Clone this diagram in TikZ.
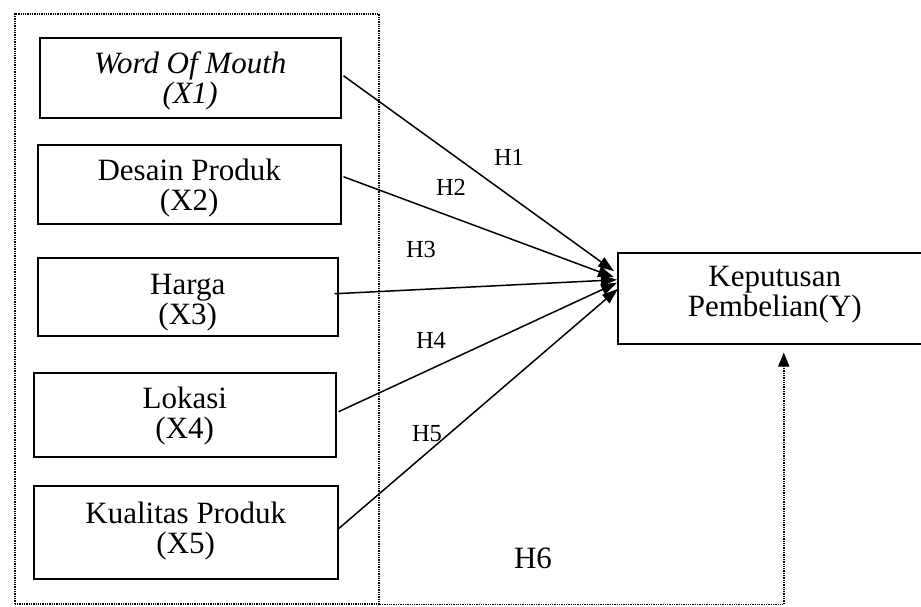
\documentclass[tikz,border=0pt]{standalone}
\usepackage{fontspec}
\setmainfont{Liberation Serif}
\usetikzlibrary{arrows.meta,calc}
\begin{document}
\begin{tikzpicture}[x=1pt,y=-1pt,
  box/.style={draw, line width=1.5pt, inner sep=0pt, anchor=north west},
  btext/.style={font=\fontsize{31}{30}\selectfont, align=center, inner sep=0pt},
  hlab/.style={font=\fontsize{24.5}{29}\selectfont, inner sep=0pt, anchor=base},
  hbig/.style={font=\fontsize{31}{36}\selectfont, inner sep=0pt, anchor=base},
  dotline/.style={line width=1.6pt, dash pattern=on 1.3pt off 1pt},
  link/.style={line width=1.5pt, -{Triangle[length=16pt,width=11pt]}},
]
\clip (0,0) rectangle (921,606);
% dotted group frame
\node[dotline, draw, inner sep=0pt, anchor=north west, minimum width=364pt, minimum height=590pt] (grp) at (14,13) {};
% boxes
\node[box, minimum width=301pt, minimum height=80pt] (b1) at (39,37) {};
\node[box, minimum width=303pt, minimum height=79pt] (b2) at (37,144) {};
\node[box, minimum width=300pt, minimum height=78pt] (b3) at (37,257) {};
\node[box, minimum width=302pt, minimum height=84pt] (b4) at (33,372) {};
\node[box, minimum width=304pt, minimum height=93pt] (b5) at (33,485) {};
\node[box, minimum width=314pt, minimum height=91pt] (y) at (617,252) {};
% box texts
\node[btext] (t1) at ($(b1.center)+(0,3.5)$) {\itshape Word Of Mouth\\\itshape (X1)};
\node[btext] (t2) at ($(b2.center)+(0,3.5)$) {Desain Produk\\(X2)};
\node[btext] (t3) at ($(b3.center)+(0,5.5)$) {Harga\\(X3)};
\node[btext] (t4) at ($(b4.center)+(0,1)$) {Lokasi\\(X4)};
\node[btext] (t5) at ($(b5.center)+(0,-1.5)$) {Kualitas Produk\\(X5)};
\node[btext] (ty) at ($(y.center)+(0,-3.5)$) {Keputusan\\Pembelian(Y)};
% arrows
\draw[link] ($(b1.east)+(2,-2)$) -- ($(y.west)+(-3,-27)$);
\draw[link] ($(b2.east)+(2,-7.5)$) -- ($(y.west)+(-3,-21)$);
\draw[link] ($(b3.east)+(-4,-3)$) -- ($(y.west)+(0,-18.5)$);
\draw[link] ($(b4.east)+(2,-3)$) -- ($(y.west)+(0,-15.5)$);
\draw[link] ($(b5.east)+(0,-3.5)$) -- ($(y.west)+(1,-9.5)$);
\draw[dotline, -{Triangle[length=14pt,width=11pt]}] (grp.south east) -| ($(y.south)+(9,8)$);
% labels
\node[hlab] (h1) at (509,165) {H1};
\node[hlab] (h2) at (451,195) {H2};
\node[hlab] (h3) at (421,257) {H3};
\node[hlab] (h4) at (431,348) {H4};
\node[hlab] (h5) at (427,441) {H5};
\node[hbig] (h6) at (533,568) {H6};
\end{tikzpicture}
\end{document}
